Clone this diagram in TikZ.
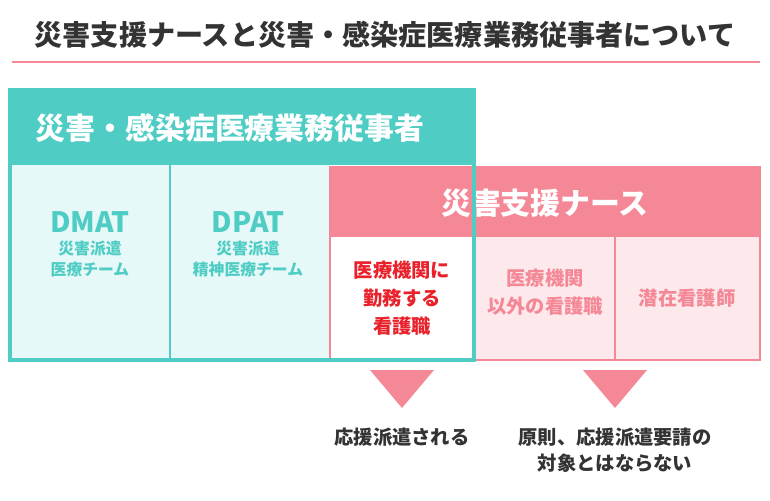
\documentclass[tikz,border=0pt]{standalone}
\usepackage{fontspec}
\setmainfont{Noto Sans CJK JP}
\usepackage{tikz}
\usetikzlibrary{positioning}
\definecolor{teal1}{HTML}{4FCDC5}
\definecolor{tealbg}{HTML}{E6F8F7}
\definecolor{pink1}{HTML}{F58896}
\definecolor{pinkbg}{HTML}{FDE9EC}
\definecolor{red1}{HTML}{E8212B}
\definecolor{dark}{HTML}{333333}
\tikzset{
  head/.style={text=white,font=\bfseries\fontsize{17}{20}\selectfont},
  cell/.style={align=center,font=\bfseries\fontsize{11}{16}\selectfont},
  note/.style={align=center,text=dark,font=\bfseries\fontsize{11}{15}\selectfont}
}
\begin{document}
\begin{tikzpicture}[x=0.02cm,y=-0.02cm]

\useasboundingbox (0,0) rectangle (770,500);

% title
\node[text=dark,font=\bfseries\fontsize{16}{20}\selectfont] (title) at (385,35) {災害支援ナースと災害・感染症医療業務従事者について};
\draw[pink1,line width=1.5pt] (12,62) -- (760,62);

% teal cells
\fill[tealbg] (10,165) rectangle (330,360);
\draw[teal1,line width=0.6pt] (170,165) -- (170,360);
\fill[teal1] (10,90) rectangle (474,165);
\node[head] (ths) at (230,128) {災害・感染症医療業務従事者};

\node[text=teal1,font=\bfseries\fontsize{16}{18}\selectfont] (dmat) at (90,222) {DMAT};
\node[cell,text=teal1,font=\bfseries\fontsize{9}{12}\selectfont,below=-2pt of dmat] (dmatt) {災害派遣\\医療チーム};
\node[text=teal1,font=\bfseries\fontsize{16}{18}\selectfont] (dpat) at (248,222) {DPAT};
\node[cell,text=teal1,font=\bfseries\fontsize{9}{12}\selectfont,below=-2pt of dpat] (dpatt) {災害派遣\\精神医療チーム};

% pink block
\fill[pinkbg] (474,237) rectangle (760,360);
\fill[white] (330,237) rectangle (474,360);
\fill[pink1] (330,167) rectangle (760,237);
\draw[pink1,line width=1.2pt] (330,167) rectangle (760,360);
\draw[pink1,line width=0.6pt] (615,237) -- (615,360);
\node[head] (phs) at (545,203) {災害支援ナース};

\node[cell,text=red1] (c1) at (402,298) {医療機関に\\勤務する\\看護職};
\node[cell,text=pink1] (c2) at (545,292) {医療機関\\以外の看護職};
\node[cell,text=pink1] (c3) at (687,298) {潜在看護師};

% teal frame
\draw[teal1,line width=2.5pt] (10,90) rectangle (474,360);

% triangles
\fill[pink1] (370,370) -- (434,370) -- (402,408) -- cycle;
\fill[pink1] (583,370) -- (647,370) -- (615,408) -- cycle;
\node[note] (n1) at (402,437) {応援派遣される};
\node[note] (n2) at (615,450) {原則、応援派遣要請の\\対象とはならない};

\end{tikzpicture}
\end{document}
